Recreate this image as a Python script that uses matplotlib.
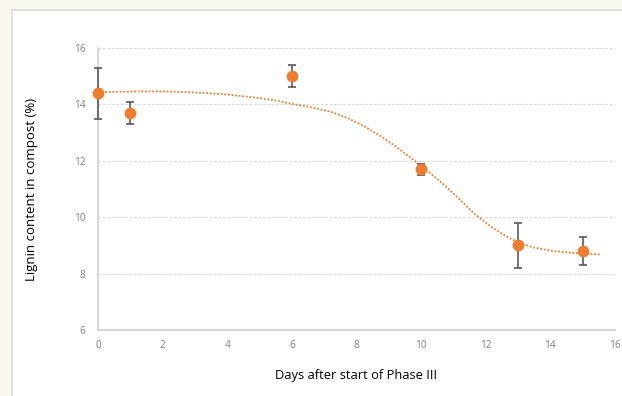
import matplotlib
matplotlib.use("Agg")
import matplotlib.pyplot as plt
from matplotlib.patches import Rectangle

# measured lignin content
days = [0, 1, 6, 10, 13, 15]
lignin = [14.4, 13.7, 15.0, 11.7, 9.0, 8.8]
err_low = [0.9, 0.4, 0.4, 0.2, 0.8, 0.5]
err_high = [0.9, 0.4, 0.4, 0.2, 0.8, 0.5]

# fitted trend curve
fit_days = [0, 0.7, 1.3, 2.0, 2.7, 3.4, 3.9, 4.5, 5.0, 5.5, 5.9, 6.5, 7.2, 7.7,
            8.2, 8.7, 9.2, 9.6, 10.0, 10.4, 10.8, 11.2, 11.6, 11.85, 12.1,
            12.5, 13.0, 13.5, 14.1, 14.6, 15.0, 15.54]
fit_vals = [14.43, 14.45, 14.46, 14.46, 14.44, 14.40, 14.36, 14.29, 14.22, 14.14,
            14.04, 13.92, 13.74, 13.53, 13.25, 12.91, 12.52, 12.18, 11.82, 11.45,
            11.06, 10.62, 10.18, 9.94, 9.72, 9.41, 9.10, 8.92, 8.80, 8.74,
            8.71, 8.68]

y_ticks = [6, 8, 10, 12, 14, 16]
x_ticks = [0, 2, 4, 6, 8, 10, 12, 14, 16]

plt.rcParams["font.family"] = ["Open Sans", "DejaVu Sans"]

fig = plt.figure(figsize=(6.22, 3.96), dpi=100)
fig.patch.set_facecolor("#FBF7F1")
fig.patches.append(Rectangle((12 / 622, -0.01), 1, 1.01 - 10 / 396,
                             transform=fig.transFigure, facecolor="white",
                             edgecolor="#DCDCDC", linewidth=1.2, zorder=-5))

ax = fig.add_axes([98 / 622, 1 - 330 / 396, (615 - 98) / 622, (330 - 48) / 396])
ax.set_zorder(2)
ax.patch.set_alpha(0)

ax.plot(fit_days, fit_vals, color="#ED7D31", linestyle=(0, (1, 1)), linewidth=1.3,
        zorder=3, clip_on=False)
eb = ax.errorbar(days, lignin, yerr=[err_low, err_high], fmt="o", color="#ED7D31",
                 markersize=7.5, ecolor="#595959", elinewidth=1.2, capsize=2.8,
                 capthick=1.2, zorder=4)
for artist in eb.lines[0:1] + eb.lines[1] + eb.lines[2]:
    artist.set_clip_on(False)

ax.set_xlim(0, 16)
ax.set_ylim(6, 16)
ax.set_xticks(x_ticks)
ax.set_yticks(y_ticks)
ax.grid(axis="y", color="#D9D9D9", linestyle=(0, (2.5, 1.5)), linewidth=0.8)
ax.set_axisbelow(True)
for s in ["top", "right"]:
    ax.spines[s].set_visible(False)
for s in ["left", "bottom"]:
    ax.spines[s].set_color("#D0D0D0")
    ax.spines[s].set_linewidth(1.2)
ax.tick_params(length=0, labelsize=7.3, labelcolor="#7F7F7F")
ax.tick_params(axis="y", pad=9)
ax.tick_params(axis="x", pad=7)

ax.set_xlabel("Days after start of Phase III", fontsize=9.3, labelpad=13)
ax.set_ylabel("Lignin content in compost (%)", fontsize=9.5, labelpad=26)

fig.savefig("out.png", dpi=100, facecolor=fig.get_facecolor())
